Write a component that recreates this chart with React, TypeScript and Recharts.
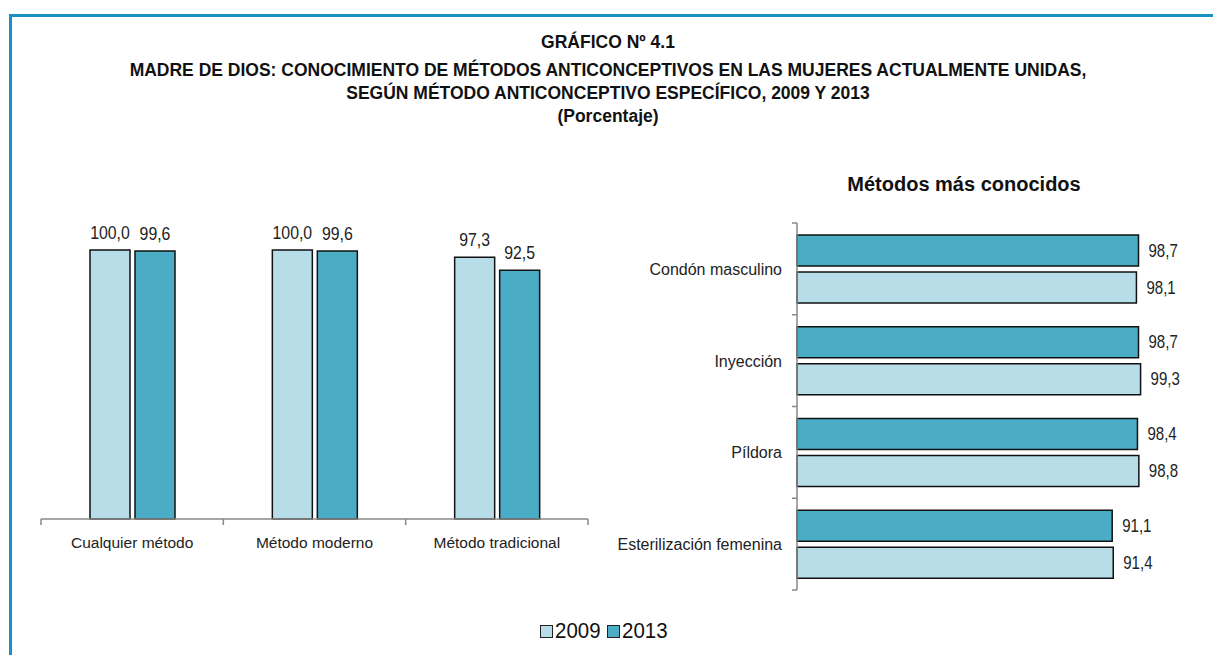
import React from 'react';
import { BarChart, Bar, XAxis, YAxis, LabelList } from 'recharts';

const groupCategories = ['Cualquier método', 'Método moderno', 'Método tradicional'];
const group2009 = [100.0, 100.0, 97.3];
const group2013 = [99.6, 99.6, 92.5];

const methodCategories = ['Condón masculino', 'Inyección', 'Píldora', 'Esterilización femenina'];
const method2009 = [98.1, 99.3, 98.8, 91.4];
const method2013 = [98.7, 98.7, 98.4, 91.1];

const seriesNames = ['2009', '2013'];
const titleLines = [
  'GRÁFICO Nº 4.1',
  'MADRE DE DIOS: CONOCIMIENTO DE MÉTODOS ANTICONCEPTIVOS EN LAS MUJERES ACTUALMENTE UNIDAS,',
  'SEGÚN MÉTODO ANTICONCEPTIVO ESPECÍFICO, 2009 Y 2013',
  '(Porcentaje)',
];
const titleTops = [30, 58, 81, 104];
const rightTitle = 'Métodos más conocidos';

const C_LIGHT = '#b7dee8';
const C_DARK = '#4bacc6';
const FONT = "'Liberation Sans Narrow', 'Arial Narrow', 'Liberation Sans', sans-serif";

const leftData = groupCategories.map((name, i) => ({ name, v2009: group2009[i], v2013: group2013[i] }));
const rightData = methodCategories.map((name, i) => ({ name, v2009: method2009[i], v2013: method2013[i] }));

const fmt = (v: any) => Number(v).toFixed(1).replace('.', ',');

const TopLabel = (props: any) => {
  const { x, y, width, value } = props;
  const cx = Number(x) + Number(width) / 2;
  const by = Number(y) - 11;
  return (
    <text transform={`translate(${cx},${by}) scale(0.88,1)`} textAnchor="middle" fontSize={18} fill="#222" fontFamily={FONT}>
      {fmt(value)}
    </text>
  );
};

const RightLabel = (props: any) => {
  const { x, y, width, height, value } = props;
  const lx = Number(x) + Number(width) + 10;
  const by = Number(y) + Number(height) / 2 + 6;
  return (
    <text transform={`translate(${lx},${by}) scale(0.86,1)`} textAnchor="start" fontSize={17.5} fill="#222" fontFamily={FONT}>
      {fmt(value)}
    </text>
  );
};

const L_W = 600, L_H = 580, L_M = { top: 250, left: 41, right: 12, bottom: 31 };
const L_HALF = (L_W - L_M.left - L_M.right) / groupCategories.length / 2;

const LeftTick = (props: any) => {
  const { x, y, payload, index } = props;
  return (
    <g>
      <line x1={x - L_HALF} y1={y} x2={x - L_HALF} y2={y + 6} stroke="#888" strokeWidth={1.5} />
      {index === groupCategories.length - 1 && (
        <line x1={x + L_HALF} y1={y} x2={x + L_HALF} y2={y + 6} stroke="#888" strokeWidth={1.5} />
      )}
      <text x={x} y={y + 29} textAnchor="middle" fontSize={15.5} fill="#222" fontFamily={FONT}>
        {payload.value}
      </text>
    </g>
  );
};

const R_W = 613, R_H = 460, R_M = { top: 73, left: 7, right: 70, bottom: 20 };
const R_HALF = (R_H - R_M.top - R_M.bottom) / methodCategories.length / 2;

const RightTick = (props: any) => {
  const { x, y, payload, index } = props;
  return (
    <g>
      <line x1={x} y1={y - R_HALF} x2={x - 5} y2={y - R_HALF} stroke="#888" strokeWidth={1.5} />
      {index === methodCategories.length - 1 && (
        <line x1={x} y1={y + R_HALF} x2={x - 5} y2={y + R_HALF} stroke="#888" strokeWidth={1.5} />
      )}
      <text x={x - 15} y={y + 6} textAnchor="end" fontSize={16} fill="#222" fontFamily={FONT}>
        {payload.value}
      </text>
    </g>
  );
};

const LegendBox = ({ color, label }: { color: string; label: string }) => (
  <span style={{ display: 'inline-flex', alignItems: 'center', marginRight: 6 }}>
    <span style={{ display: 'inline-block', width: 11, height: 11, background: color, border: '1.5px solid #222', marginRight: 2 }} />
    <span style={{ fontSize: 22, color: '#111', display: 'inline-block', transform: 'scaleX(0.93)', transformOrigin: 'left center', marginRight: -3 }}>{label}</span>
  </span>
);

export default function App() {
  return (
    <div style={{ position: 'absolute', left: 0, top: 0, width: 1213, height: 655, background: '#fff', overflow: 'hidden', fontFamily: FONT }}>
      <div style={{ position: 'absolute', left: 9, top: 14, width: 1204, height: 641, borderTop: '3px solid #1a91c4', borderLeft: '3px solid #1a91c4' }} />
      {titleLines.map((t, i) => (
        <div key={t} style={{ position: 'absolute', left: 0, top: titleTops[i], width: 1216, textAlign: 'center', fontWeight: 'bold', fontSize: 17.5, lineHeight: '24px', color: '#111' }}>
          {t}
        </div>
      ))}
      <div style={{ position: 'absolute', left: 0, top: 0 }}>
        <BarChart width={L_W} height={L_H} data={leftData} margin={L_M} barSize={40} barGap={5}>
          <XAxis dataKey="name" axisLine={{ stroke: '#888', strokeWidth: 1.5 }} tickLine={false} tickSize={0} tickMargin={0} height={30} tick={<LeftTick />} interval={0} />
          <YAxis hide domain={[0, 100]} />
          <Bar dataKey="v2009" name={seriesNames[0]} fill={C_LIGHT} stroke="#111" strokeWidth={1.5} isAnimationActive={false}>
            <LabelList dataKey="v2009" content={<TopLabel />} />
          </Bar>
          <Bar dataKey="v2013" name={seriesNames[1]} fill={C_DARK} stroke="#111" strokeWidth={1.5} isAnimationActive={false}>
            <LabelList dataKey="v2013" content={<TopLabel />} />
          </Bar>
        </BarChart>
      </div>
      <div style={{ position: 'absolute', left: 791, top: 173, width: 346, textAlign: 'center', fontWeight: 'bold', fontSize: 20, color: '#111' }}>
        {rightTitle}
      </div>
      <div style={{ position: 'absolute', left: 600, top: 150 }}>
        <BarChart width={R_W} height={R_H} data={rightData} layout="vertical" margin={R_M} barSize={31} barGap={6}>
          <XAxis type="number" hide domain={[0, 100]} />
          <YAxis type="category" dataKey="name" width={190} axisLine={{ stroke: '#888', strokeWidth: 1.5 }} tickLine={false} tickSize={0} tickMargin={0} tick={<RightTick />} interval={0} />
          <Bar dataKey="v2013" name={seriesNames[1]} fill={C_DARK} stroke="#111" strokeWidth={1.5} isAnimationActive={false}>
            <LabelList dataKey="v2013" content={<RightLabel />} />
          </Bar>
          <Bar dataKey="v2009" name={seriesNames[0]} fill={C_LIGHT} stroke="#111" strokeWidth={1.5} isAnimationActive={false}>
            <LabelList dataKey="v2009" content={<RightLabel />} />
          </Bar>
        </BarChart>
      </div>
      <div style={{ position: 'absolute', left: 0, top: 618, width: 1213, textAlign: 'center' }}>
        <LegendBox color={C_LIGHT} label={seriesNames[0]} />
        <LegendBox color={C_DARK} label={seriesNames[1]} />
      </div>
    </div>
  );
}
